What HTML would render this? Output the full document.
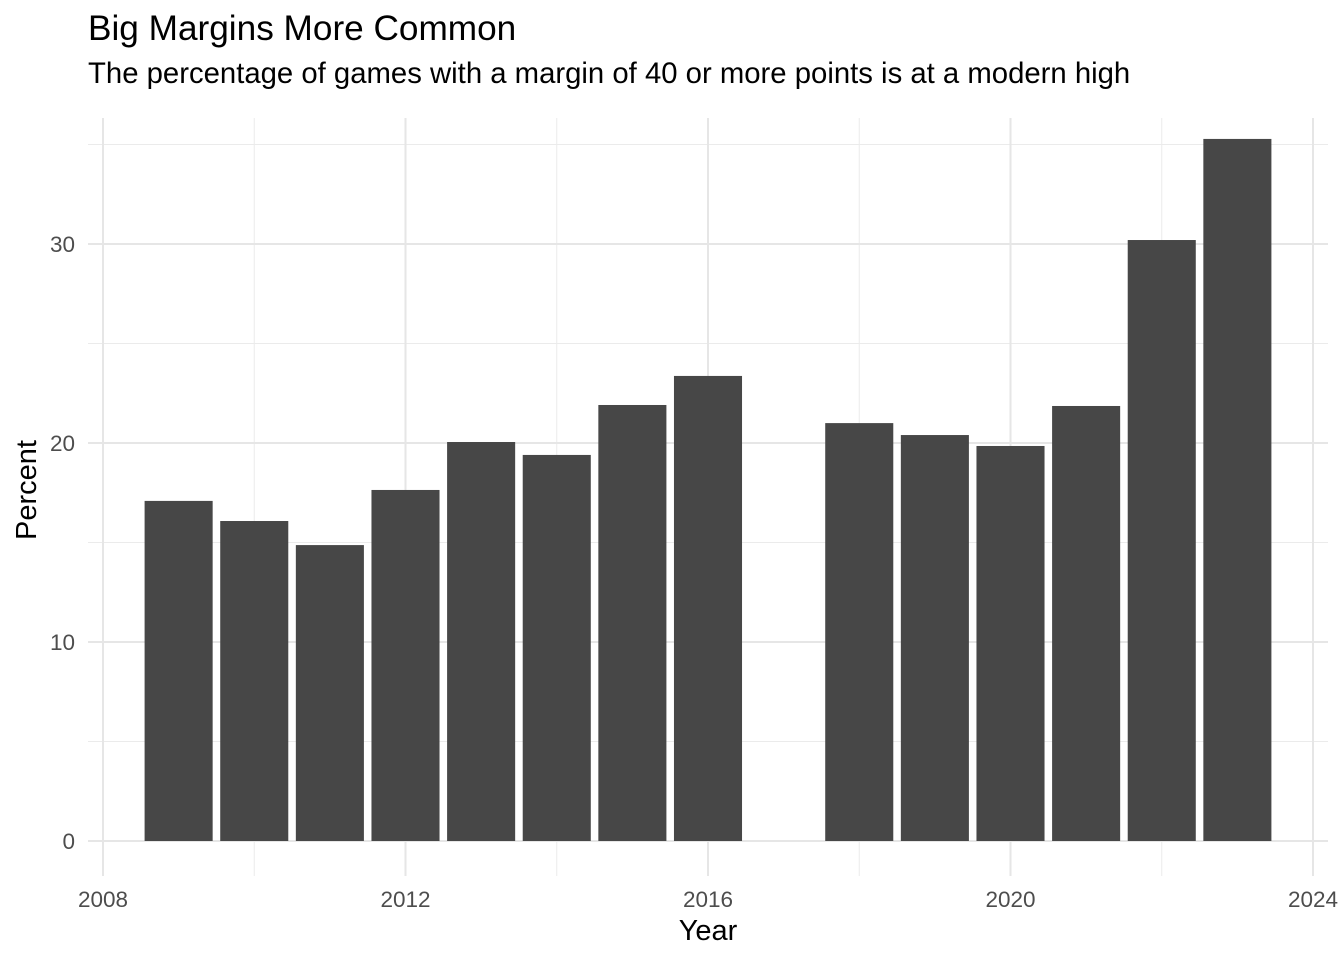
<!DOCTYPE html>
<html><head><meta charset="utf-8"><style>
html,body{margin:0;padding:0;background:#fff;}
svg{display:block;font-family:"Liberation Sans",Arial,sans-serif;}
</style></head><body>
<svg id="chart" width="1344" height="960">
<text x="88" y="40" font-size="35.2" fill="#000">Big Margins More Common</text>
<text x="88" y="83" font-size="29.3" fill="#000">The percentage of games with a margin of 40 or more points is at a modern high</text>
<g id="grid"></g><g id="bars"></g><g id="axes"></g>
<text x="708" y="940" font-size="29" text-anchor="middle" fill="#000">Year</text>
<text transform="translate(36,490) rotate(-90)" font-size="29" text-anchor="middle" fill="#000">Percent</text>
</svg>
<script>
const years=[2009,2010,2011,2012,2013,2014,2015,2016,2018,2019,2020,2021,2022,2023];
const percents=[17.09,16.08,14.87,17.64,20.05,19.40,21.91,23.37,21.0,20.4,19.85,21.86,30.2,35.28];
const yTicks=[0,10,20,30];
const yMinor=[5,15,25,35];
const xTicks=[2008,2012,2016,2020,2024];
const xMinor=[2010,2014,2018,2022];
const ns="http://www.w3.org/2000/svg";
const L=88,R=1328,T=118,B=876;
const xs=v=>103+(v-2008)*(1313-103)/16;
const ys=v=>841-v*(841-244)/30;
function mk(t,a,p){const e=document.createElementNS(ns,t);for(const k in a)e.setAttribute(k,a[k]);p.appendChild(e);return e;}
const g=document.getElementById('grid'),b=document.getElementById('bars'),ax=document.getElementById('axes');
yMinor.forEach(v=>{const e=mk('line',{x1:L,x2:R,y1:ys(v),y2:ys(v),stroke:'#ebebeb','stroke-width':1},g);

});
xMinor.forEach(v=>{const e=mk('line',{x1:xs(v),x2:xs(v),y1:T,y2:B,stroke:'#ebebeb','stroke-width':1},g);

});
yTicks.forEach(v=>{const e=mk('line',{x1:L,x2:R,y1:ys(v),y2:ys(v),stroke:'#e6e6e6','stroke-width':2},g);


const t=mk('text',{x:75,y:ys(v)+8,'font-size':22.5,'text-anchor':'end',fill:'#4d4d4d'},ax);t.textContent=v;

});
xTicks.forEach(v=>{const e=mk('line',{x1:xs(v),x2:xs(v),y1:T,y2:B,stroke:'#e6e6e6','stroke-width':2},g);


const t=mk('text',{x:xs(v),y:907,'font-size':22.5,'text-anchor':'middle',fill:'#4d4d4d'},ax);t.textContent=v;

});
const w=(xs(1)-xs(0))*0.9;
years.forEach((y,i)=>{const e=mk('rect',{x:xs(y)-w/2,y:ys(percents[i]),width:w,height:ys(0)-ys(percents[i]),fill:'#474747'},b);

});
</script>
</body></html>
